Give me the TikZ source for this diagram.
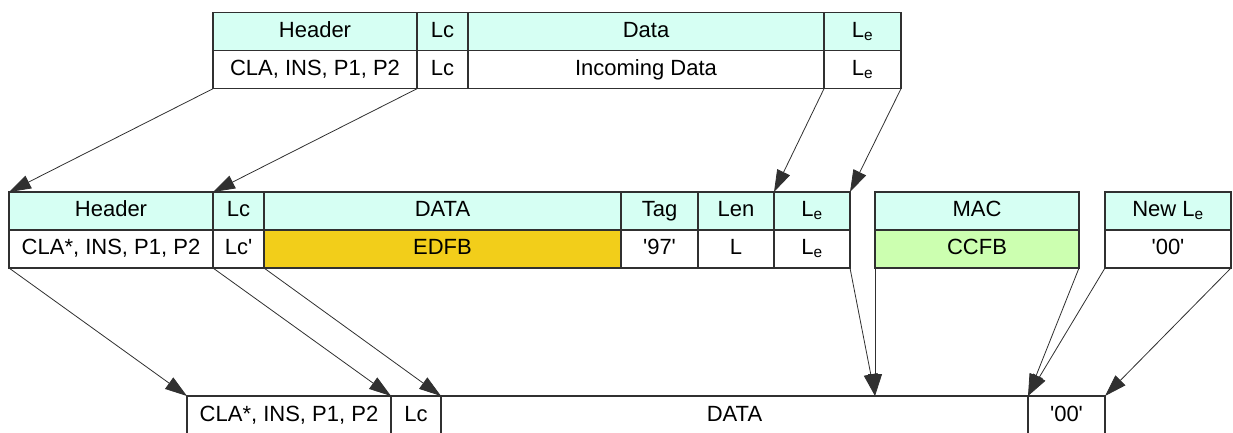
\documentclass[tikz,border=0pt]{standalone}
\usepackage{fontspec}
\setmainfont{Liberation Sans}
\usetikzlibrary{arrows.meta, positioning}
\definecolor{HeadCyan}{HTML}{D6FFF3}
\definecolor{EncGold}{HTML}{F2CE1A}
\definecolor{MacGreen}{HTML}{CCFFB0}
\definecolor{Frame}{HTML}{303030}
\newcommand{\hexq}[1]{\textquotesingle#1\textquotesingle}

\begin{document}
\begin{tikzpicture}[x=1pt, y=-1pt]
	\tikzstyle{cell} = [
	draw=Frame,
	line width=1.2pt,
	rectangle,
	outer sep=0pt,
	inner sep=0pt,
	minimum height=38pt,
	text height=15pt,
	text depth=4pt,
	font=\fontsize{22}{26}\selectfont
	]
	\tikzstyle{head} = [cell, fill=HeadCyan]
	\tikzstyle{move} = [line width=.8pt, draw=Frame, -{Triangle[length=22pt, width=14pt]}]
	\useasboundingbox (0,0) rectangle (1233,433);
	
	% incoming command
	\node[head, minimum width=204pt, anchor=north west] (tHead) at (213,12.7) {Header};
	\node[head, minimum width=51pt, right=0pt of tHead] (tLcH) {Lc};
	\node[head, minimum width=356pt, right=0pt of tLcH] (tDataH) {Data};
	\node[head, minimum width=77pt, right=0pt of tDataH] (tLeH) {L\textsubscript{e}};
	\node[cell, minimum width=204pt, below=0pt of tHead] (tCla) {CLA, INS, P1, P2};
	\node[cell, minimum width=51pt, right=0pt of tCla] (tLc) {Lc};
	\node[cell, minimum width=356pt, right=0pt of tLc] (tIn) {Incoming Data};
	\node[cell, minimum width=77pt, right=0pt of tIn] (tLe) {L\textsubscript{e}};
	
	% secured command
	\node[head, minimum width=204pt, anchor=north west] (mHead) at (9,192) {Header};
	\node[head, minimum width=51pt, right=0pt of mHead] (mLcH) {Lc};
	\node[head, minimum width=357pt, right=0pt of mLcH] (mDataH) {DATA};
	\node[head, minimum width=77pt, right=0pt of mDataH] (mTagH) {Tag};
	\node[head, minimum width=76pt, right=0pt of mTagH] (mLenH) {Len};
	\node[head, minimum width=76pt, right=0pt of mLenH] (mLeH) {L\textsubscript{e}};
	\node[head, minimum width=204pt, right=25pt of mLeH] (mMacH) {MAC};
	\node[head, minimum width=126pt, right=26pt of mMacH] (mNewH) {New L\textsubscript{e}};
	\node[cell, minimum width=204pt, below=0pt of mHead] (mCla) {CLA*, INS, P1, P2};
	\node[cell, minimum width=51pt, right=0pt of mCla] (mLc) {Lc\textquotesingle};
	\node[cell, minimum width=357pt, right=0pt of mLc, fill=EncGold] (mEnc) {EDFB};
	\node[cell, minimum width=77pt, right=0pt of mEnc] (mTag) {\hexq{97}};
	\node[cell, minimum width=76pt, right=0pt of mTag] (mLen) {L};
	\node[cell, minimum width=76pt, right=0pt of mLen] (mLe) {L\textsubscript{e}};
	\node[cell, minimum width=204pt, below=0pt of mMacH, fill=MacGreen] (mMac) {CCFB};
	\node[cell, minimum width=126pt, below=0pt of mNewH] (mNew) {\hexq{00}};
	
	% outgoing command
	\node[cell, minimum width=204pt, minimum height=40pt, anchor=north west] (bCla) at (187,396) {CLA*, INS, P1, P2};
	\node[cell, minimum width=50pt, minimum height=40pt, right=0pt of bCla] (bLc) {Lc};
	\node[cell, minimum width=587pt, minimum height=40pt, right=0pt of bLc] (bData) {DATA};
	\node[cell, minimum width=77pt, minimum height=40pt, right=0pt of bData] (bLe) {\hexq{00}};
	\coordinate (dataIn) at (mMac.south west |- bData.north);
	
	\draw[move] (tCla.south west) to (mHead.north west);
	\draw[move] (tCla.south east) to (mHead.north east);
	\draw[move] (tIn.south east) to (mLenH.north east);
	\draw[move] (tLe.south east) to (mLeH.north east);
	
	\draw[move] (mCla.south west) to (bCla.north west);
	\draw[move] (mCla.south east) to (bCla.north east);
	\draw[move] (mLc.south east) to (bLc.north east);
	\draw[move] (mLe.south east) to (dataIn);
	\draw[move] (mMac.south west) to (dataIn);
	\draw[move] (mMac.south east) to (bLe.north west);
	\draw[move] (mNew.south west) to (bLe.north west);
	\draw[move] (mNew.south east) to (bLe.north east);
\end{tikzpicture}
\end{document}
